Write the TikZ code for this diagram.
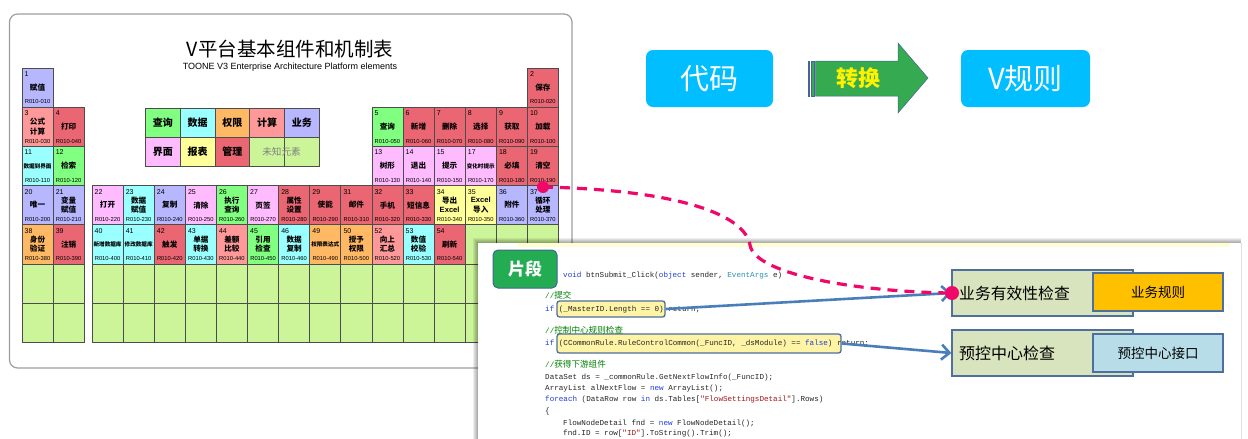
\documentclass[tikz,border=0pt]{standalone}
\usepackage{fontspec}
\setmainfont{Liberation Sans}
\newfontfamily\cjk{Noto Sans CJK SC}
\newfontfamily\codefont{Liberation Mono}
\usetikzlibrary{calc,arrows.meta}
\definecolor{clav}{RGB}{183,183,255}
\definecolor{csalmon}{RGB}{255,153,153}
\definecolor{cred}{RGB}{235,102,115}
\definecolor{ccyan}{RGB}{153,255,255}
\definecolor{cgreen}{RGB}{128,255,128}
\definecolor{cpink}{RGB}{255,187,255}
\definecolor{corange}{RGB}{255,185,100}
\definecolor{cyellow}{RGB}{255,255,153}
\definecolor{clgreen}{RGB}{204,245,154}
\definecolor{skyb}{RGB}{0,190,255}
\definecolor{arrgreen}{RGB}{53,170,80}
\definecolor{arrborder}{RGB}{70,100,150}
\definecolor{pinkc}{RGB}{240,8,104}
\definecolor{bluearr}{RGB}{74,126,187}
\definecolor{boxborder}{RGB}{79,111,159}
\definecolor{chkfill}{RGB}{215,228,189}
\definecolor{rulegold}{RGB}{255,192,0}
\definecolor{ruleblue}{RGB}{183,222,232}
\definecolor{pdgreen}{RGB}{35,172,82}
\definecolor{hlfill}{RGB}{255,243,165}
\definecolor{kwblue}{RGB}{30,60,220}
\definecolor{tyteal}{RGB}{43,145,175}
\definecolor{strred}{RGB}{163,21,21}
\definecolor{cmgreen}{RGB}{0,128,0}
\newcommand\kw[1]{\textcolor{kwblue}{#1}}
\newcommand\ty[1]{\textcolor{tyteal}{#1}}
\newcommand\str[1]{\textcolor{strred}{#1}}
\newcommand\cm[1]{\textcolor{cmgreen}{//{\cjk\fontsize{8.6}{9}\selectfont #1}}}
\newcommand\sm[1]{{\fontsize{5.6}{6}\selectfont #1}}
\newcommand\pcell[5]{%
  \ifnum#1<3 \pgfmathsetmacro\pcx{22+(#1-1)*31.1}\else\pgfmathsetmacro\pcx{92+(#1-3)*31.1}\fi
  \pgfmathsetmacro\pcy{68+(#2-1)*39.2}%
  \node[cellbox,fill=#4] (c#3) at (\pcx,\pcy) {};
  \node[cellnum] at ($(c#3.north west)+(2.5,8.5)$) {#3};
  \node[cellname] at ($(c#3.north west)+(15.55,19.5)$) {#5};
  \pgfmathtruncatemacro\pcode{#3*10}%
  \node[cellcode] at ($(c#3.north west)+(15.55,34)$) {R010-\ifnum\pcode<100 0\fi\pcode};
}
\newcommand\ecell[2]{%
  \ifnum#1<3 \pgfmathsetmacro\pcx{22+(#1-1)*31.1}\else\pgfmathsetmacro\pcx{92+(#1-3)*31.1}\fi
  \pgfmathsetmacro\pcy{68+(#2-1)*39.2}%
  \node[cellbox,fill=clgreen] (e#1-#2) at (\pcx,\pcy) {};
}
\begin{document}
\begin{tikzpicture}[x=1pt,y=-1pt,
  cellbox/.style={draw=black!70, line width=0.7pt, minimum width=31.1pt, minimum height=39.2pt, anchor=north west, inner sep=0pt, outer sep=0pt},
  cellnum/.style={anchor=base west, inner sep=0pt, font=\fontsize{7}{8}\selectfont},
  cellname/.style={inner sep=0pt, align=center, font=\cjk\bfseries\fontsize{7.6}{9.3}\selectfont},
  cellcode/.style={inner sep=0pt, font=\fontsize{5.8}{6}\selectfont},
  legbox/.style={draw=black!70, line width=0.7pt, minimum width=34.8pt, minimum height=29pt, anchor=north west, inner sep=0pt, font=\cjk\bfseries\fontsize{10}{12}\selectfont},
  codeline/.style={anchor=base west, inner sep=0pt, font=\codefont\fontsize{7.6}{9}\selectfont, text=black!85},
  hlbox/.style={draw=boxborder, line width=1.3pt, fill=hlfill, rounded corners=2.5pt, inner sep=0pt},
  bluearrow/.style={draw=bluearr, line width=2.6pt, -{Straight Barb[length=8pt,width=15pt]}},
  pinkdash/.style={draw=pinkc, line width=3.2pt, dash pattern=on 10pt off 7pt},
  pinkdot/.style={circle, fill=pinkc, inner sep=0pt},
  bigbox/.style={draw=boxborder, line width=1.2pt, fill=chkfill, minimum width=181pt, minimum height=46pt, inner sep=0pt},
  rulebox/.style={draw=boxborder, line width=1.2pt, minimum width=130pt, minimum height=38pt, inner sep=0pt, font=\cjk\fontsize{13.5}{15}\selectfont},
  topbox/.style={fill=skyb, rounded corners=7pt, minimum height=57pt, inner sep=0pt, text=white, font=\cjk\fontsize{29}{32}\selectfont}
]
\useasboundingbox (0,0) rectangle (1248,439);
\fill[white] (0,0) rectangle (1248,439);

% ---------- left panel ----------
\draw[rounded corners=8pt, draw=gray!75, line width=1.2pt, fill=white] (9.5,14) rectangle (572,368);
\node[font=\cjk\fontsize{19.5}{22}\selectfont, inner sep=0pt] (title) at (290,49) {V平台基本组件和机制表};
\node[font=\fontsize{9}{10}\selectfont, inner sep=0pt] (subtitle) at (290,67.5) {TOONE V3 Enterprise Architecture Platform elements};

% legend
\node[legbox, fill=cgreen] (l1) at (145,108) {查询};
\node[legbox, fill=ccyan] (l2) at (179.8,108) {数据};
\node[legbox, fill=corange] (l3) at (214.6,108) {权限};
\node[legbox, fill=csalmon] (l4) at (249.4,108) {计算};
\node[legbox, fill=clav] (l5) at (284.2,108) {业务};
\node[legbox, fill=cpink] (l6) at (145,137) {界面};
\node[legbox, fill=cyellow] (l7) at (179.8,137) {报表};
\node[legbox, fill=cred] (l8) at (214.6,137) {管理};
\node[legbox, fill=clgreen] (l9) at (249.4,137) {};
\node[legbox, fill=clgreen] (l10) at (284.2,137) {};
\node[font=\cjk\fontsize{9.6}{11}\selectfont, text=gray, inner sep=0pt] (l9t) at (281.5,151.5) {未知元素};

% cells
\pcell{1}{1}{1}{clav}{赋值}
\pcell{17}{1}{2}{cred}{保存}
\pcell{1}{2}{3}{csalmon}{公式\\计算}
\pcell{2}{2}{4}{cred}{打印}
\pcell{12}{2}{5}{cgreen}{查询}
\pcell{13}{2}{6}{cred}{新增}
\pcell{14}{2}{7}{cred}{删除}
\pcell{15}{2}{8}{cred}{选择}
\pcell{16}{2}{9}{cred}{获取}
\pcell{17}{2}{10}{cred}{加载}
\pcell{1}{3}{11}{ccyan}{\sm{数据到界面}}
\pcell{2}{3}{12}{cgreen}{检索}
\pcell{12}{3}{13}{cpink}{树形}
\pcell{13}{3}{14}{cpink}{退出}
\pcell{14}{3}{15}{cpink}{提示}
\pcell{15}{3}{17}{cpink}{\sm{变化时提示}}
\pcell{16}{3}{18}{cred}{必填}
\pcell{17}{3}{19}{cred}{清空}
\pcell{1}{4}{20}{clav}{唯一}
\pcell{2}{4}{21}{clav}{变量\\赋值}
\pcell{3}{4}{22}{cpink}{打开}
\pcell{4}{4}{23}{ccyan}{数据\\赋值}
\pcell{5}{4}{24}{clav}{复制}
\pcell{6}{4}{25}{cpink}{清除}
\pcell{7}{4}{26}{cgreen}{执行\\查询}
\pcell{8}{4}{27}{cpink}{页签}
\pcell{9}{4}{28}{cred}{属性\\设置}
\pcell{10}{4}{29}{cred}{使能}
\pcell{11}{4}{31}{cred}{邮件}
\pcell{12}{4}{32}{cred}{手机}
\pcell{13}{4}{33}{cred}{短信息}
\pcell{14}{4}{34}{cyellow}{导出\\{\rmfamily Excel}}
\pcell{15}{4}{35}{cyellow}{{\rmfamily Excel}\\导入}
\pcell{16}{4}{36}{clav}{附件}
\pcell{17}{4}{37}{clav}{循环\\处理}
\pcell{1}{5}{38}{corange}{身份\\验证}
\pcell{2}{5}{39}{cred}{注销}
\pcell{3}{5}{40}{ccyan}{\sm{新增数据库}}
\pcell{4}{5}{41}{ccyan}{\sm{修改数据库}}
\pcell{5}{5}{42}{cred}{触发}
\pcell{6}{5}{43}{ccyan}{单据\\转换}
\pcell{7}{5}{44}{csalmon}{差额\\比较}
\pcell{8}{5}{45}{cgreen}{引用\\检查}
\pcell{9}{5}{46}{ccyan}{数据\\复制}
\pcell{10}{5}{49}{corange}{\sm{权限表达式}}
\pcell{11}{5}{50}{corange}{授予\\权限}
\pcell{12}{5}{52}{csalmon}{向上\\汇总}
\pcell{13}{5}{53}{ccyan}{数值\\校验}
\pcell{14}{5}{54}{cred}{刷新}
\ecell{15}{5}\ecell{16}{5}\ecell{17}{5}
\foreach \cc in {1,...,17}{\ecell{\cc}{6}\ecell{\cc}{7}}

% ---------- top right ----------
\node[topbox, minimum width=127pt] (code) at (709.5,78.5) {代码};
\node[topbox, minimum width=129pt] (vrule) at (1025.5,78.5) {V规则};
\filldraw[fill=arrgreen, draw=arrborder, line width=0.5pt] (808,61) rectangle (809.6,96);
\filldraw[fill=arrgreen, draw=arrborder, line width=0.5pt] (811.2,61) rectangle (814,96);
\filldraw[fill=arrgreen, draw=arrborder, line width=0.5pt] (815.6,61) -- (898,61) -- (898,43) -- (928,78) -- (898,113) -- (898,96) -- (815.6,96) -- cycle;
\node[font=\cjk\bfseries\fontsize{22}{24}\selectfont, text=yellow, inner sep=0pt] (conv) at (858,78) {转换};

% ---------- code panel ----------
\foreach \i in {5,4,3,2,1}{\fill[black, opacity=0.07] (478-\i,243-\i) rectangle (1241,445);}
\fill[white] (478,243) rectangle (1241,445);
\draw[gray!25, line width=0.6pt] (1241.5,243) -- (1241.5,439);
\fill[yellow!18] (518,243) rectangle (1230,247);

\node[hlbox, minimum width=108pt, minimum height=16pt] (hl1) at (611,309) {};
\node[hlbox, minimum width=284pt, minimum height=19pt] (hl2) at (699,343.5) {};

\node[codeline] (k1) at (563,277) {\kw{void} btnSubmit\_Click(\kw{object} sender, \ty{EventArgs} e)};
\node[codeline] (k2) at (545,298) {\cm{提交}};
\node[codeline] (k3) at (545,311) {\kw{if} (\_MasterID.Length == 0) return;};
\node[codeline] (k4) at (545,333) {\cm{控制中心规则检查}};
\node[codeline] (k5) at (545,345) {\kw{if} (CCommonRule.RuleControlCommon(\_FuncID, \_dsModule) == \kw{false}) return;};
\node[codeline] (k6) at (545,367) {\cm{获得下游组件}};
\node[codeline] (k7) at (545,379) {DataSet ds = \_commonRule.GetNextFlowInfo(\_FuncID);};
\node[codeline] (k8) at (545,390) {ArrayList alNextFlow = \kw{new} ArrayList();};
\node[codeline] (k9) at (545,401) {\kw{foreach} (DataRow row \kw{in} ds.Tables[\str{"FlowSettingsDetail"}].Rows)};
\node[codeline] (k10) at (545,413) {\{};
\node[codeline] (k11) at (563,425) {FlowNodeDetail fnd = \kw{new} FlowNodeDetail();};
\node[codeline] (k12) at (563,435) {fnd.ID = row[\str{"ID"}].ToString().Trim();};

\node[draw=arrborder, line width=1pt, fill=pdgreen, rounded corners=5pt, minimum width=64pt, minimum height=38pt, inner sep=0pt, text=white, font=\cjk\bfseries\fontsize{17}{19}\selectfont] (frag) at (525,269) {片段};

% right boxes
\node[bigbox] (chk1) at (1042.5,293) {};
\node[anchor=west, inner sep=0pt, font=\cjk\fontsize{15.8}{18}\selectfont] (chk1t) at (959,293) {业务有效性检查};
\node[rulebox, fill=rulegold] (rule1) at (1158,292) {业务规则};
\node[bigbox] (chk2) at (1042.5,353) {};
\node[anchor=west, inner sep=0pt, font=\cjk\fontsize{16}{18}\selectfont] (chk2t) at (959,353) {预控中心检查};
\node[rulebox, fill=ruleblue] (rule2) at (1158,353) {预控中心接口};

% connectors
\draw[bluearrow] (hl1.east) -- (chk1.west);
\draw[bluearrow] (hl2.east) -- (chk2.west);

\node[pinkdot, minimum size=12pt] (dotA) at (543,187) {};
\node[pinkdot, minimum size=14pt] (dotB) at (952,293) {};
\draw[pinkdash] (dotA.center) .. controls (680,190) and (745,215) .. (750,245) .. controls (755,275) and (860,292) .. (dotB.center);
\end{tikzpicture}
\end{document}
